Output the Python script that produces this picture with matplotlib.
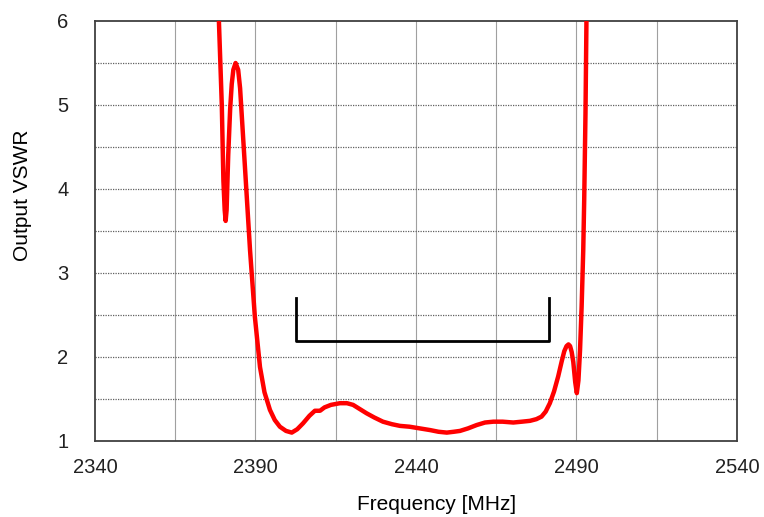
"""Output VSWR vs frequency."""
import matplotlib.pyplot as plt

freq = [2378.2, 2378.6, 2379.5, 2380.0, 2380.4, 2380.7, 2381.0, 2381.5, 2382.1,
        2382.6, 2383.1, 2383.8, 2384.6, 2385.2, 2386.7, 2388.3, 2389.8, 2391.4,
        2392.8, 2394.5, 2396.0, 2397.6, 2399.5, 2401.3, 2403.0, 2404.8, 2406.8,
        2408.5, 2410.1, 2411.5, 2413.5, 2416.3, 2418.5, 2420.4, 2422.5, 2424.6,
        2427.0, 2429.7, 2432.5, 2435.0, 2438.0, 2441.2, 2444.4, 2447.0, 2449.6,
        2451.8, 2453.7, 2456.2, 2458.9, 2461.5, 2464.1, 2467.0, 2470.3, 2473.0,
        2475.5, 2477.5, 2479.1, 2480.4, 2481.7, 2483.0, 2484.3, 2485.4, 2486.2,
        2486.9, 2487.5, 2488.0, 2488.5, 2489.0, 2489.6, 2490.1, 2490.6, 2491.1,
        2491.6, 2492.1, 2492.4, 2492.8, 2493.1, 2493.3]
vswr = [6.5, 6.0, 5.0, 4.1, 3.75, 3.62, 3.75, 4.4, 4.95,
        5.25, 5.42, 5.50, 5.42, 5.20, 4.27, 3.27, 2.48, 1.88,
        1.58, 1.37, 1.25, 1.17, 1.12, 1.10, 1.14, 1.21, 1.30,
        1.36, 1.36, 1.40, 1.43, 1.45, 1.45, 1.43, 1.38, 1.33,
        1.28, 1.23, 1.20, 1.18, 1.17, 1.15, 1.13, 1.11, 1.10,
        1.11, 1.12, 1.15, 1.19, 1.22, 1.23, 1.23, 1.22, 1.23,
        1.24, 1.26, 1.29, 1.35, 1.45, 1.59, 1.77, 1.95, 2.07,
        2.13, 2.15, 2.13, 2.06, 1.94, 1.70, 1.57, 1.72, 2.08,
        2.60, 3.27, 3.87, 4.90, 6.0, 6.5]

# bracket marking the band of interest
band_f = [2402.5, 2402.5, 2481.5, 2481.5]
band_v = [2.7, 2.19, 2.19, 2.7]

x_ticks = [2340, 2390, 2440, 2490, 2540]
y_ticks = [1, 2, 3, 4, 5, 6]

plt.rcParams['font.family'] = ['Liberation Sans', 'DejaVu Sans']

fig = plt.figure(figsize=(7.64, 5.17), dpi=100)
ax = fig.add_axes([95 / 764, 1 - 441 / 517, 642 / 764, 420 / 517])

for f in range(2365, 2540, 25):
    ax.axvline(f, color='#a0a0a0', lw=0.8, zorder=1)
for v in [1.5, 2, 2.5, 3, 3.5, 4, 4.5, 5, 5.5]:
    ax.axhline(v, color='#606060', lw=0.9, ls=(0, (1, 1)), zorder=1)

ax.plot(band_f, band_v, color='black', lw=2, zorder=2)
ax.plot(freq, vswr, color='#ff0000', lw=3.2, solid_joinstyle='round', zorder=3)

ax.set_xlim(2340, 2540)
ax.set_ylim(1, 6)
ax.set_xticks(x_ticks)
ax.set_yticks(y_ticks)
ax.tick_params(length=0, labelsize=14.5, colors='#222222')
ax.tick_params(axis='x', pad=12)
ax.tick_params(axis='y', pad=19)
for s in ax.spines.values():
    s.set_color('#404040')
    s.set_linewidth(1.3)

ax.set_xlabel('Frequency [MHz]', fontsize=15)
ax.set_ylabel('Output VSWR', fontsize=15)
ax.xaxis.set_label_coords(0.532, -0.129)
ax.yaxis.set_label_coords(-0.098, 0.584)

fig.savefig('out.png', dpi=100)
